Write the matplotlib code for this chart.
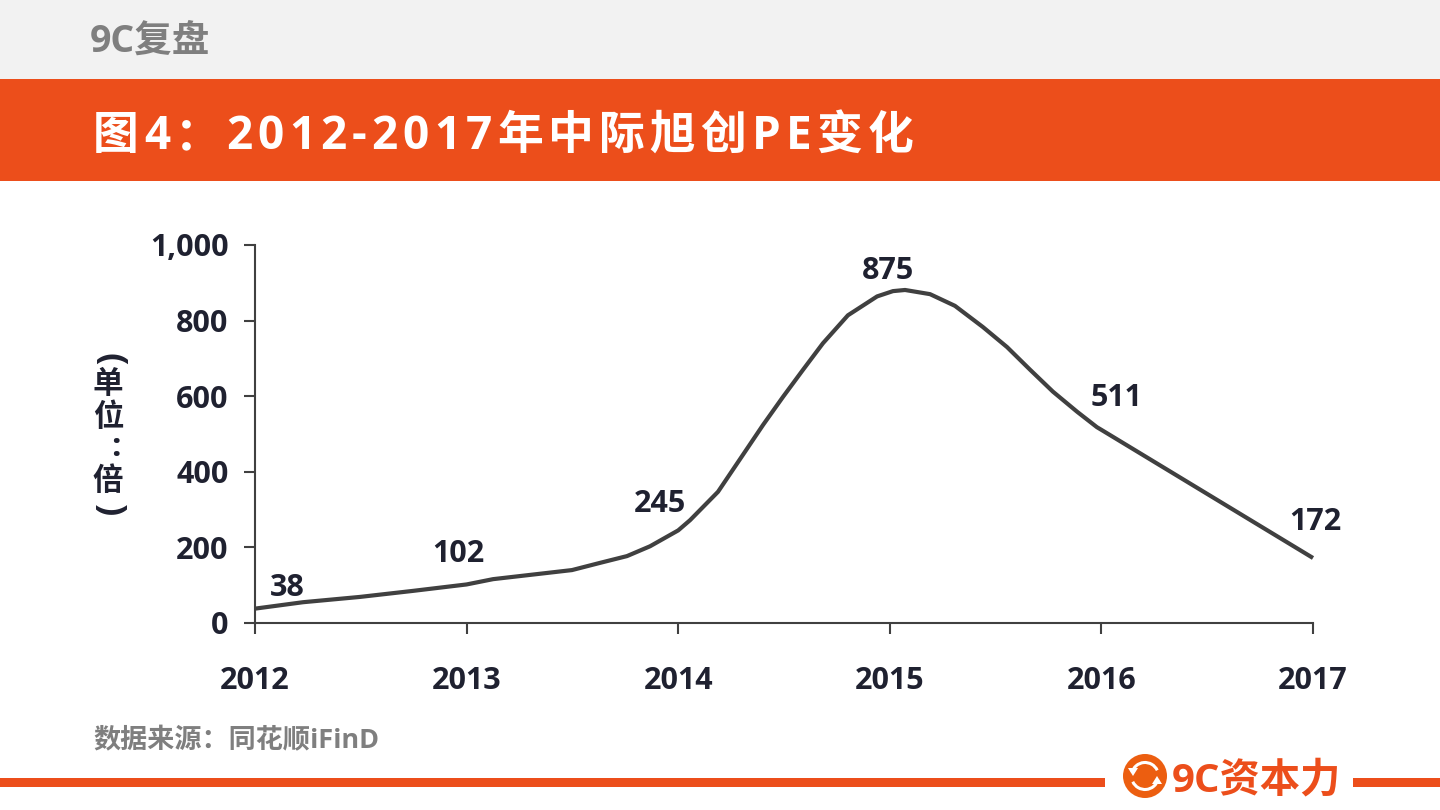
import numpy as np
import matplotlib
matplotlib.use('Agg')
import matplotlib.pyplot as plt
from matplotlib.patches import Rectangle, Circle, Arc, Polygon

plt.rcParams['font.family'] = ['Open Sans', 'Noto Sans CJK SC', 'DejaVu Sans']

# curve
years = [2012, 2012.227, 2012.496, 2012.747, 2013, 2013.125, 2013.498, 2013.63, 2013.758, 2013.867,
         2014, 2014.056, 2014.188, 2014.306, 2014.401, 2014.495, 2014.59, 2014.684, 2014.802, 2014.94,
         2015.015, 2015.072, 2015.19, 2015.308, 2015.44, 2015.554, 2015.663, 2015.771, 2015.885, 2015.979,
         2016, 2017]
pe = [38, 55, 69, 85, 102, 116, 140, 159, 177, 203,
      245, 272, 347, 445, 524, 598, 670, 740, 814, 864,
      878, 881, 870, 839, 783, 730, 670, 612, 559, 518,
      511, 172]

label_years = [2012, 2013, 2014, 2015, 2016, 2017]
label_values = [38, 102, 245, 875, 511, 172]
y_ticks = [0, 200, 400, 600, 800, 1000]
y_tick_labels = ['0', '200', '400', '600', '800', '1,000']

title_text = '图4：2012-2017年中际旭创PE变化'
header_text = '9C复盘'
source_text = '数据来源：同花顺iFinD'
brand_text = '9C资本力'

ORANGE = '#EC4E1B'
DARK = '#1F2130'
LINE = '#404040'
GREY = '#7F7F7F'

fig = plt.figure(figsize=(14.4, 8.1), dpi=100, facecolor='white')

# page furniture, drawn in pixel coordinates
bg = fig.add_axes([0, 0, 1, 1])
bg.set_xlim(0, 1440)
bg.set_ylim(810, 0)
bg.axis('off')
bg.add_patch(Rectangle((0, 0), 1440, 79, color='#F2F2F2', lw=0))
bg.add_patch(Rectangle((0, 79), 1440, 102, color=ORANGE, lw=0))
bg.add_patch(Rectangle((0, 778), 1105, 9, color=ORANGE, lw=0))
bg.add_patch(Rectangle((1353, 778), 87, 9, color=ORANGE, lw=0))

bg.text(90, 42, header_text, fontsize=27, fontweight='bold', color=GREY, va='center', ha='left')
bg.text(93, 741, source_text, fontsize=19.5, fontweight='bold', color=GREY, va='center', ha='left')


def spaced_text(ax, x, y, s, gap, **kw):
    # matplotlib has no letter spacing, so place the characters one at a time
    r = fig.canvas.get_renderer()
    for ch in s:
        t = ax.text(x, y, ch, ha='left', va='center_baseline', **kw)
        x += t.get_window_extent(r).width + gap


spaced_text(bg, 93, 131, title_text, 5.1, fontsize=33, fontweight='bold', color='white')

# vertical unit label: (单位:倍) stacked, brackets turned on their side
unit_kw = dict(fontsize=22, fontweight='bold', color=DARK, ha='center', va='center')
bg.text(108, 359, '(', rotation=-90, **{**unit_kw, 'fontsize': 26})
bg.text(108, 385, '单', **unit_kw)
bg.text(108, 418, '位', **unit_kw)
bg.text(116, 448, ':', **{**unit_kw, 'fontsize': 24})
bg.text(108, 482, '倍', **unit_kw)
bg.text(108, 510, ')', rotation=-90, **{**unit_kw, 'fontsize': 26})

# logo
bg.add_patch(Circle((1145, 776), 22, color='#EC5E10', lw=0))
bg.add_patch(Arc((1145, 776), 27, 27, theta1=195, theta2=335, color='white', lw=2.2))
bg.add_patch(Arc((1145, 776), 27, 27, theta1=15, theta2=155, color='white', lw=2.2))
bg.add_patch(Polygon([(1128, 768), (1138, 768), (1133, 776)], color='white', lw=0))
bg.add_patch(Polygon([(1152, 784), (1162, 784), (1157, 776)], color='white', lw=0))
bg.text(1172, 781, brand_text, fontsize=29, fontweight='bold', color=ORANGE, ha='left', va='center')

# chart
ax = fig.add_axes([255 / 1440, 1 - 623 / 810, (1313 - 255) / 1440, (623 - 245) / 810])
ax.patch.set_alpha(0)
ax.plot(years, pe, color=LINE, lw=3, solid_joinstyle='round', solid_capstyle='butt', clip_on=False)
ax.set_xlim(2012, 2017)
ax.set_ylim(0, 1000)
ax.set_xticks(label_years)
ax.set_yticks(y_ticks)
ax.set_yticklabels(y_tick_labels)
for s in ('top', 'right'):
    ax.spines[s].set_visible(False)
for s in ('left', 'bottom'):
    ax.spines[s].set_color(LINE)
    ax.spines[s].set_linewidth(1.5)
ax.tick_params(axis='both', length=8, width=1.5, color=LINE, labelcolor=DARK, labelsize=22)
ax.tick_params(axis='x', pad=23)
ax.tick_params(axis='y', pad=11)
for lab in ax.get_xticklabels() + ax.get_yticklabels():
    lab.set_fontweight('bold')

# value labels, nudged off the line as in the original
label_offsets = [(23, 15), (-6, 22), (-13, 19), (-1.5, 15), (11, 23), (2, 26)]
for yr, val, off in zip(label_years, label_values, label_offsets):
    ax.annotate(str(val), (yr, val), xytext=off, textcoords='offset points', ha='center', va='center',
                fontsize=22, fontweight='bold', color=DARK, annotation_clip=False)

fig.savefig('out.png', dpi=100)
